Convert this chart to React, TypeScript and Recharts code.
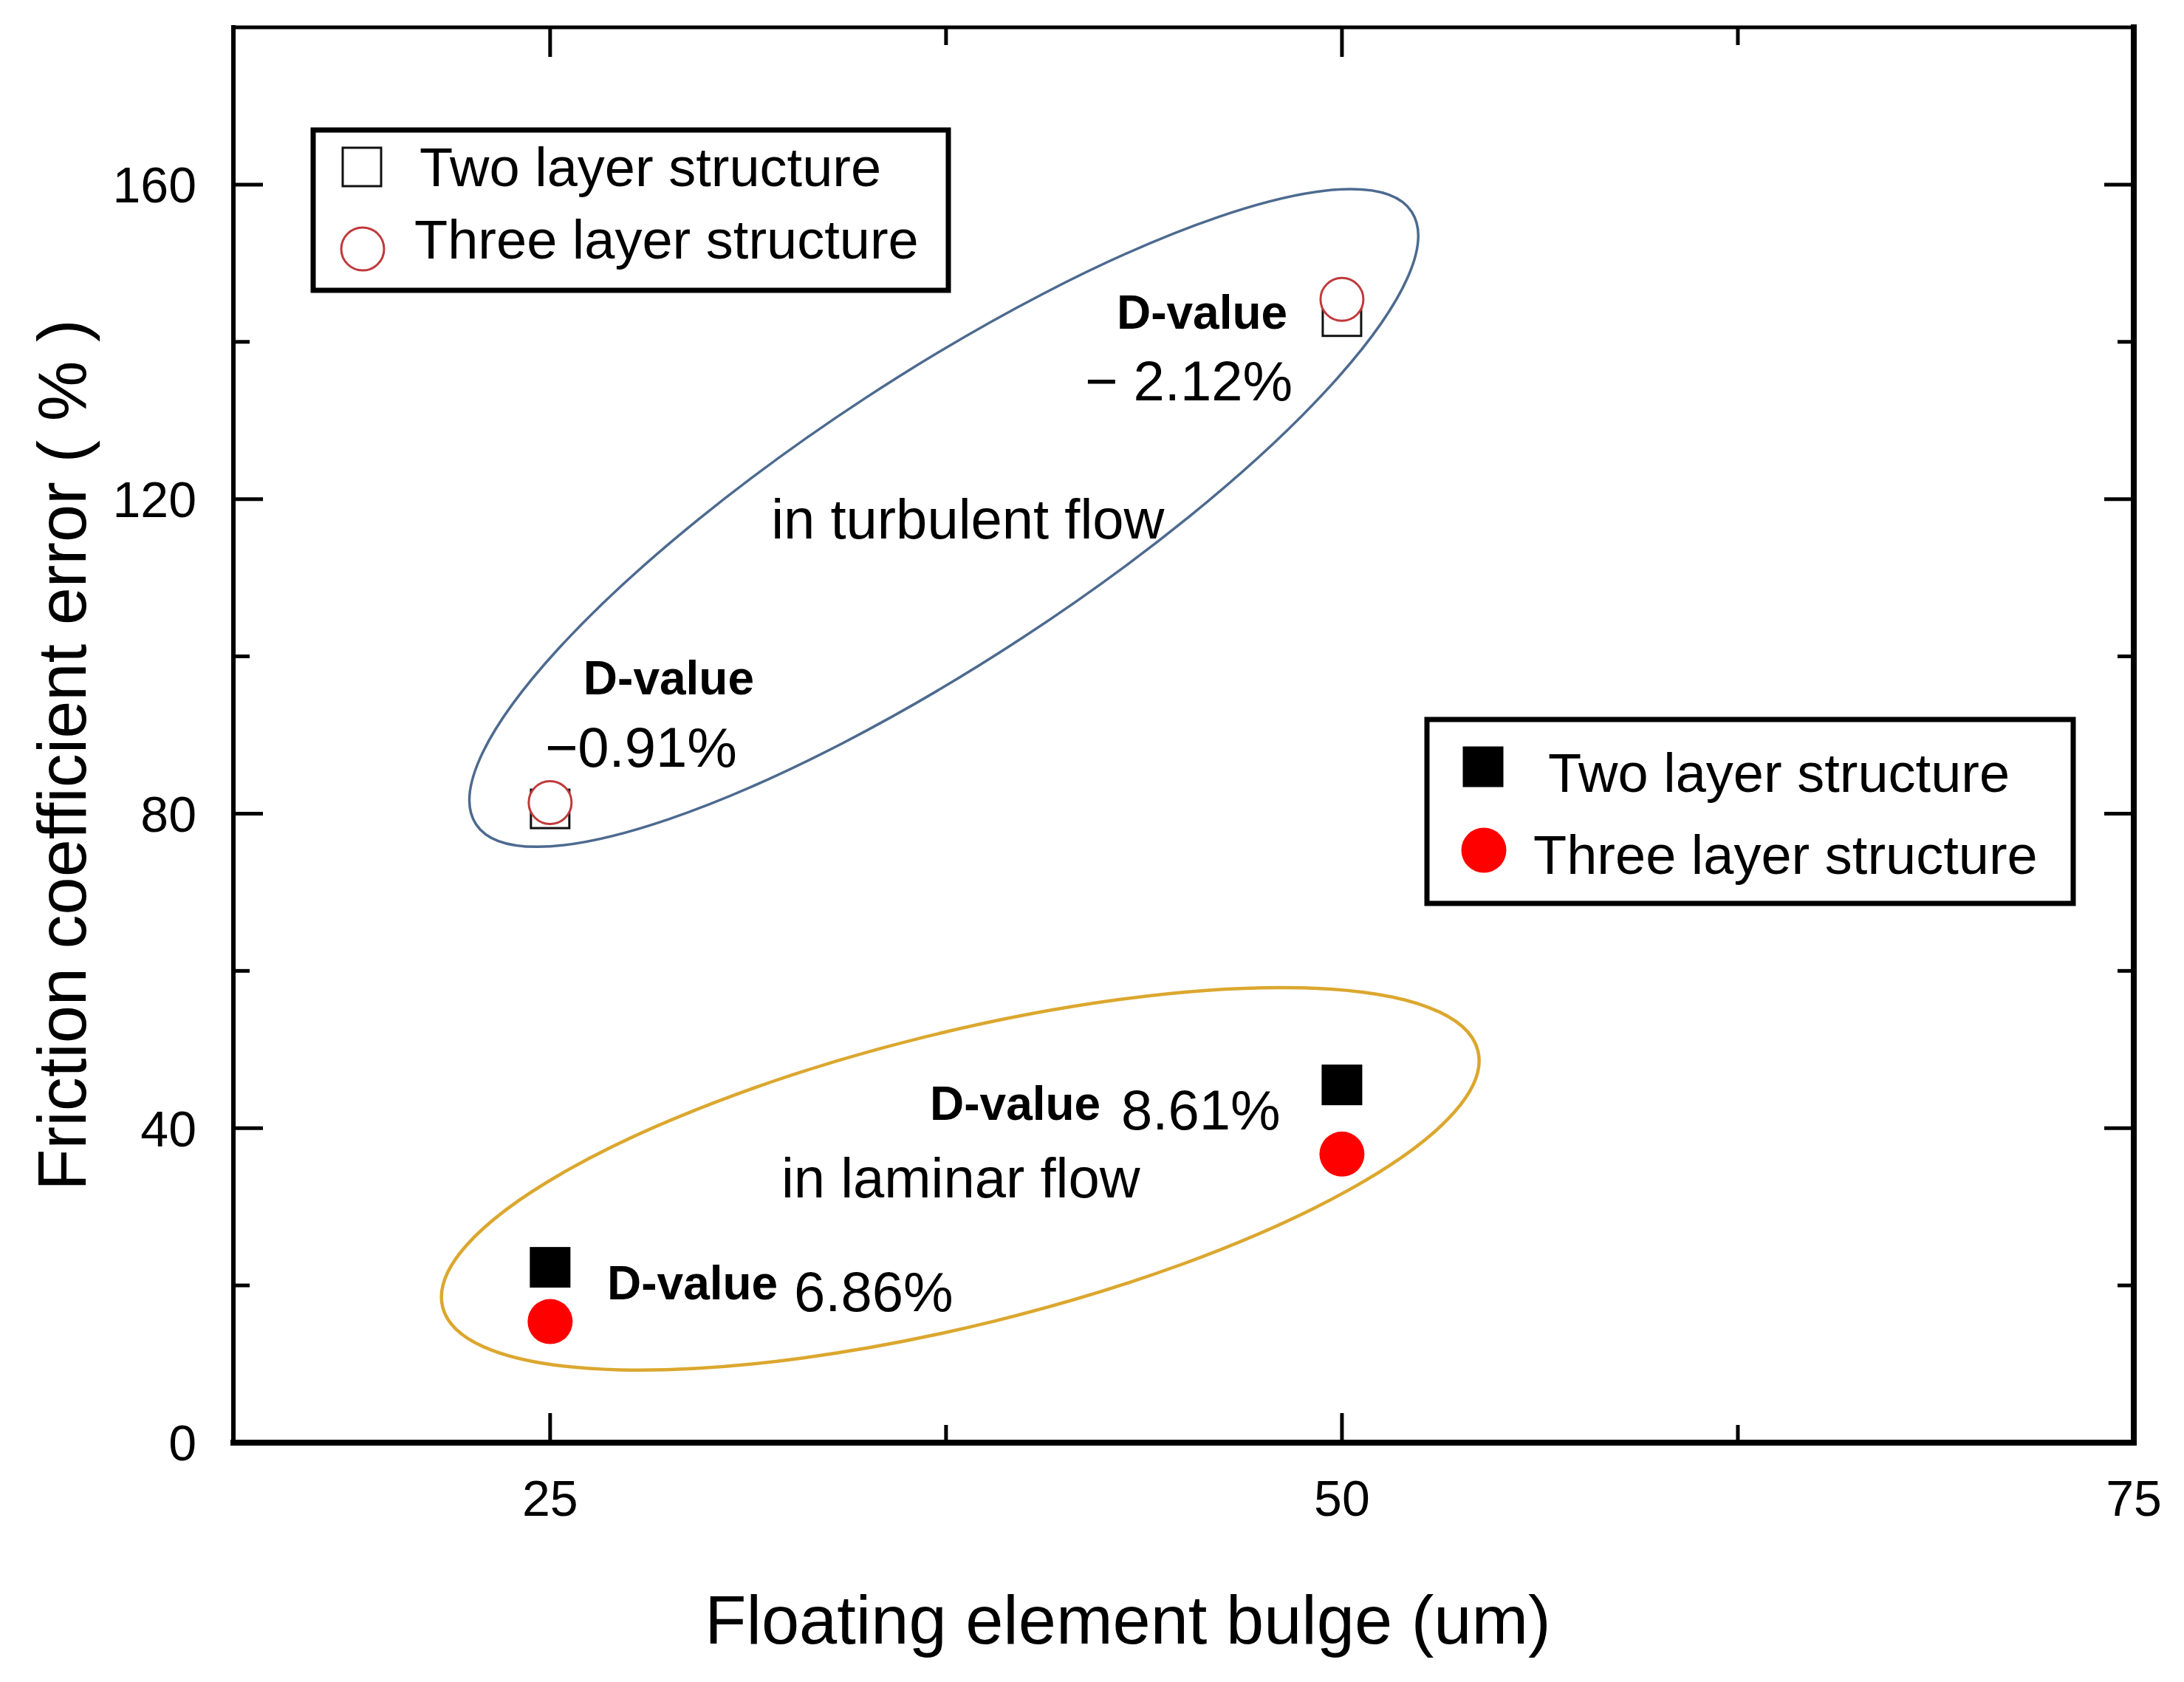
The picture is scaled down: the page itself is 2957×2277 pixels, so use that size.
import { ScatterChart, Scatter, XAxis, YAxis, ReferenceDot, Legend } from "recharts";

const W = 2957;
const H = 2277;
const FONT = '"Liberation Sans", Arial, Helvetica, sans-serif';

// floating element bulge (um)
const bulge = [25, 50];
// friction coefficient error (%)
const twoLayerTurbulent = [80.6, 143.2];
const threeLayerTurbulent = [81.4, 145.4];
const twoLayerLaminar = [22.3, 45.5];
const threeLayerLaminar = [15.4, 36.7];

const xTicks = [25, 37.5, 50, 62.5, 75];
const xLabels = [25, 50, 75];
const yTicks = [0, 20, 40, 60, 80, 100, 120, 140, 160];
const yLabels = [0, 40, 80, 120, 160];

const toPoints = (ys: number[]) => bulge.map((x, i) => ({ x, y: ys[i] }));

// series styles: open markers = turbulent, filled markers = laminar
const SERIES = [
  { id: "twoTurb", name: "Two layer structure", data: twoLayerTurbulent, marker: "square", fill: "#ffffff", stroke: "#111111", size: 52, sw: 3, box: 0 },
  { id: "threeTurb", name: "Three layer structure", data: threeLayerTurbulent, marker: "circle", fill: "#ffffff", stroke: "#c0393b", size: 58, sw: 3, box: 0 },
  { id: "twoLam", name: "Two layer structure", data: twoLayerLaminar, marker: "square", fill: "#000000", stroke: "none", size: 55, sw: 0, box: 1 },
  { id: "threeLam", name: "Three layer structure", data: threeLayerLaminar, marker: "circle", fill: "#ff0000", stroke: "none", size: 61, sw: 0, box: 1 },
];

// legend boxes, page pixels
const LEGEND_BOXES = [
  { left: 424, top: 176, width: 860, height: 217, rows: [{ mx: 490, my: 226, tx: 568, ty: 252 }, { mx: 491, my: 337, tx: 561, ty: 350 }] },
  { left: 1932, top: 974, width: 875, height: 249, rows: [{ mx: 2008, my: 1038, tx: 2096, ty: 1072 }, { mx: 2009, my: 1151, tx: 2076, ty: 1183 }] },
];

// text annotations, anchored in data coordinates
const NOTES = [
  { text: "D-value", x: 48.28, y: 141.7, anchor: "end", bold: true },
  { text: "\u2212 2.12%", x: 48.44, y: 132.6, anchor: "end", bold: false },
  { text: "in turbulent flow", x: 31.98, y: 115.0, anchor: "start", bold: false },
  { text: "D-value", x: 26.05, y: 95.2, anchor: "start", bold: true },
  { text: "\u22120.91%", x: 24.84, y: 86.0, anchor: "start", bold: false },
  { text: "D-value", x: 36.99, y: 41.1, anchor: "start", bold: true },
  { text: "8.61%", x: 43.03, y: 39.8, anchor: "start", bold: false },
  { text: "in laminar flow", x: 32.3, y: 31.2, anchor: "start", bold: false },
  { text: "D-value", x: 26.8, y: 18.2, anchor: "start", bold: true },
  { text: "6.86%", x: 32.7, y: 16.7, anchor: "start", bold: false },
];

// ellipses around the two groups
const ELLIPSES = [
  { x: 37.43, y: 117.6, rx: 757, ry: 194, angle: 33.2, color: "#4d6a8f", sw: 3.5 },
  { x: 37.95, y: 33.55, rx: 722, ry: 198, angle: 13.9, color: "#dba72e", sw: 4.5 },
];

const Marker = ({ s, cx, cy }: { s: (typeof SERIES)[number]; cx: number; cy: number }) =>
  s.marker === "square" ? (
    <rect x={cx - s.size / 2} y={cy - s.size / 2} width={s.size} height={s.size} fill={s.fill} stroke={s.stroke} strokeWidth={s.sw} />
  ) : (
    <circle cx={cx} cy={cy} r={s.size / 2} fill={s.fill} stroke={s.stroke} strokeWidth={s.sw} />
  );

const BottomTick = (props: any) => {
  const { x, y, payload } = props;
  const major = xLabels.includes(payload.value);
  return (
    <g>
      <line x1={x} y1={y} x2={x} y2={y - (major ? 40 : 24)} stroke="#000" strokeWidth={5} />
      {major && (
        <text x={x} y={y + 99} textAnchor="middle" fontSize={68} fontFamily={FONT} fill="#000">
          {payload.value}
        </text>
      )}
    </g>
  );
};

const TopTick = (props: any) => {
  const { x, y, payload } = props;
  const major = xLabels.includes(payload.value);
  return <line x1={x} y1={y} x2={x} y2={y + (major ? 40 : 24)} stroke="#000" strokeWidth={5} />;
};

const LeftTick = (props: any) => {
  const { x, y, payload } = props;
  const major = yLabels.includes(payload.value);
  return (
    <g>
      <line x1={x} y1={y} x2={x + (major ? 40 : 22)} y2={y} stroke="#000" strokeWidth={5} />
      {major && (
        <text x={x - 50} y={y} dy="0.36em" textAnchor="end" fontSize={68} fontFamily={FONT} fill="#000">
          {payload.value}
        </text>
      )}
    </g>
  );
};

const RightTick = (props: any) => {
  const { x, y, payload } = props;
  const major = yLabels.includes(payload.value);
  return <line x1={x} y1={y} x2={x - (major ? 40 : 22)} y2={y} stroke="#000" strokeWidth={5} />;
};

const LegendBoxes = ({ payload }: any) => {
  const entries = (payload ?? [])
    .map((e: any, i: number) => SERIES.find((s) => s.name === e.value && s.fill === e.color) ?? SERIES[i])
    .filter(Boolean)
    .sort((a: any, b: any) => SERIES.indexOf(a) - SERIES.indexOf(b));
  return (
    <svg width={W} height={H} style={{ position: "absolute", left: 0, top: 0, overflow: "visible", pointerEvents: "none" }}>
      {LEGEND_BOXES.map((b, bi) => {
        const items = entries.filter((s: any) => s.box === bi);
        return (
          <g key={bi}>
            <rect x={b.left} y={b.top} width={b.width} height={b.height} fill="#fff" stroke="#000" strokeWidth={7} />
            {items.map((s: any, ri: number) => {
              const r = b.rows[ri];
              return (
                <g key={s.id}>
                  <Marker s={s} cx={r.mx} cy={r.my} />
                  <text x={r.tx} y={r.ty} fontSize={74} fontFamily={FONT} fill="#000">
                    {s.name}
                  </text>
                </g>
              );
            })}
          </g>
        );
      })}
    </svg>
  );
};

export default function App() {
  return (
    <div style={{ position: "absolute", left: 0, top: 0, background: "#fff" }}>
      <ScatterChart width={W} height={H} margin={{ top: 0, right: 0, bottom: 0, left: 0 }}>
        <XAxis
          xAxisId="bottom"
          type="number"
          dataKey="x"
          domain={[15, 75]}
          ticks={xTicks}
          interval={0}
          height={324}
          tickSize={0}
          tickMargin={0}
          tickLine={false}
          tick={<BottomTick />}
          axisLine={{ stroke: "#000", strokeWidth: 8, strokeLinecap: "square" }}
          allowDataOverflow
          label={{
            content: () => (
              <text x={1527} y={2225} textAnchor="middle" fontSize={92} fontFamily={FONT} fill="#000">
                Floating element bulge (um)
              </text>
            ),
          }}
        />
        <XAxis
          xAxisId="top"
          orientation="top"
          type="number"
          dataKey="x"
          domain={[15, 75]}
          ticks={xTicks}
          interval={0}
          height={37}
          tickSize={0}
          tickMargin={0}
          tickLine={false}
          tick={<TopTick />}
          axisLine={{ stroke: "#000", strokeWidth: 5, strokeLinecap: "square" }}
          allowDataOverflow
        />
        <YAxis
          yAxisId="left"
          type="number"
          dataKey="y"
          domain={[0, 180]}
          ticks={yTicks}
          interval={0}
          width={316}
          tickSize={0}
          tickMargin={0}
          tickLine={false}
          tick={<LeftTick />}
          axisLine={{ stroke: "#000", strokeWidth: 6, strokeLinecap: "square" }}
          allowDataOverflow
          label={{
            content: () => (
              <text
                x={116}
                y={1022}
                transform="rotate(-90 116 1022)"
                textAnchor="middle"
                fontSize={92}
                fontFamily={FONT}
                fill="#000"
              >
                Friction coefficient error ( % )
              </text>
            ),
          }}
        />
        <YAxis
          yAxisId="right"
          orientation="right"
          type="number"
          dataKey="y"
          domain={[0, 180]}
          ticks={yTicks}
          interval={0}
          width={68}
          tickSize={0}
          tickMargin={0}
          tickLine={false}
          tick={<RightTick />}
          axisLine={{ stroke: "#000", strokeWidth: 8, strokeLinecap: "square" }}
          allowDataOverflow
        />

        {ELLIPSES.map((e, i) => (
          <ReferenceDot
            key={`ell-${i}`}
            xAxisId="bottom"
            yAxisId="left"
            x={e.x}
            y={e.y}
            ifOverflow="visible"
            shape={(p: any) => (
              <ellipse
                cx={p.cx}
                cy={p.cy}
                rx={e.rx}
                ry={e.ry}
                transform={`rotate(${-e.angle} ${p.cx} ${p.cy})`}
                fill="none"
                stroke={e.color}
                strokeWidth={e.sw}
              />
            )}
          />
        ))}

        {NOTES.map((n, i) => (
          <ReferenceDot
            key={`note-${i}`}
            xAxisId="bottom"
            yAxisId="left"
            x={n.x}
            y={n.y}
            ifOverflow="visible"
            shape={(p: any) => (
              <text
                x={p.cx}
                y={p.cy}
                textAnchor={n.anchor as any}
                fontSize={n.bold ? 64 : 76}
                fontWeight={n.bold ? "bold" : "normal"}
                fontFamily={FONT}
                fill="#000"
              >
                {n.text}
              </text>
            )}
          />
        ))}

        {SERIES.map((s) => (
          <Scatter
            key={s.id}
            id={s.id}
            name={s.name}
            xAxisId="bottom"
            yAxisId="left"
            data={toPoints(s.data)}
            fill={s.fill}
            stroke={s.stroke}
            isAnimationActive={false}
            shape={(p: any) => <Marker s={s} cx={p.cx} cy={p.cy} />}
          />
        ))}

        <Legend
          verticalAlign="top"
          align="left"
          content={<LegendBoxes />}
          wrapperStyle={{ left: 0, top: 0, width: 0, height: 0, overflow: "visible" }}
        />
      </ScatterChart>
    </div>
  );
}
